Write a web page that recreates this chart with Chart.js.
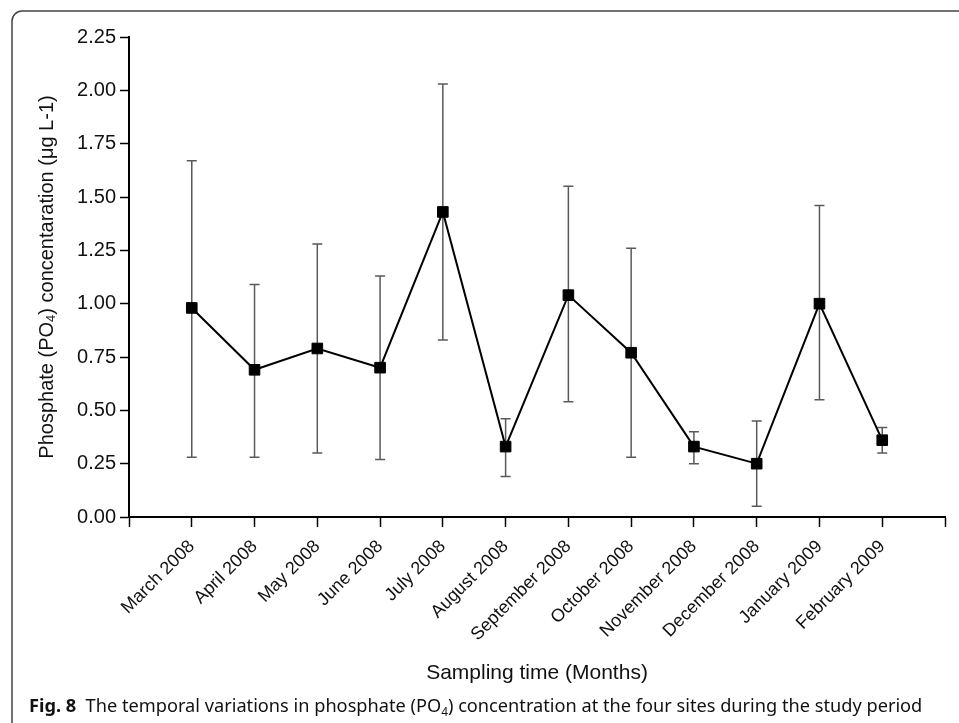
<!DOCTYPE html>
<html>
<head>
<meta charset="utf-8">
<script src="https://cdn.jsdelivr.net/npm/chart.js@4.4.0/dist/chart.umd.min.js"></script>
<style>
  html, body { margin: 0; padding: 0; background: #fff; }
  #wrap { width: 959px; height: 723px; position: relative; }
</style>
</head>
<body>
<div id="wrap"><canvas id="chartPO4"></canvas></div>
<script>
// months sampled, one point per month
const months = [
    "March 2008", "April 2008", "May 2008", "June 2008", "July 2008", "August 2008",
    "September 2008", "October 2008", "November 2008", "December 2008", "January 2009", "February 2009"
];
// mean phosphate
const means = [0.98, 0.69, 0.79, 0.70, 1.43, 0.33, 1.04, 0.77, 0.33, 0.25, 1.00, 0.36];
// error bar ends
const upper = [1.67, 1.09, 1.28, 1.13, 2.03, 0.46, 1.55, 1.26, 0.40, 0.45, 1.46, 0.42];
const lower = [0.28, 0.28, 0.30, 0.27, 0.83, 0.19, 0.54, 0.28, 0.25, 0.05, 0.55, 0.30];
const yTicks = [0, 0.25, 0.5, 0.75, 1, 1.25, 1.5, 1.75, 2, 2.25];

const axisFont = "'Liberation Sans', Arial, sans-serif";
const captionFont = "'Noto Sans', 'Open Sans', sans-serif";

// draws text pieces one after another, some of them as subscripts
const drawPieces = function (ctx, pieces, x, y, size, family) {
    let cx = x;
    pieces.forEach(p => {
        let s = p.sub ? size * 0.65 : size;
        ctx.font = `${p.bold ? 'bold ' : ''}${s}px ${family}`;
        ctx.fillText(p.t, cx, p.sub ? y + size * 0.22 : y);
        cx += ctx.measureText(p.t).width;
    });
    return cx - x;
};
const piecesWidth = function (ctx, pieces, size, family) {
    let w = 0;
    pieces.forEach(p => {
        let s = p.sub ? size * 0.65 : size;
        ctx.font = `${p.bold ? 'bold ' : ''}${s}px ${family}`;
        w += ctx.measureText(p.t).width;
    });
    return w;
};

const errorBarPlugin = {
    id: 'errorBars',
    beforeDatasetsDraw(chart) {
        const ctx = chart.ctx;
        const xs = chart.scales.x, ys = chart.scales.y;
        ctx.save();
        ctx.strokeStyle = '#5a5a5a';
        ctx.lineWidth = 1.5;
        months.forEach((m, i) => {
            const x = xs.getPixelForValue(i + 1);
            const yt = ys.getPixelForValue(upper[i]);
            const yb = ys.getPixelForValue(lower[i]);
            ctx.beginPath();
            ctx.moveTo(x, yt); ctx.lineTo(x, yb);
            ctx.moveTo(x - 5, yt); ctx.lineTo(x + 5, yt);
            ctx.moveTo(x - 5, yb); ctx.lineTo(x + 5, yb);
            ctx.stroke();
        });
        ctx.restore();
    }
};

const decorPlugin = {
    id: 'decor',
    afterDraw(chart) {
        const ctx = chart.ctx;
        const area = chart.chartArea;
        ctx.save();

        // figure frame, rounded top-left corner
        ctx.strokeStyle = '#444';
        ctx.lineWidth = 1.5;
        ctx.beginPath();
        ctx.moveTo(12, 723);
        ctx.lineTo(12, 21);
        ctx.arcTo(12, 11, 22, 11, 10);
        ctx.lineTo(959, 11);
        ctx.stroke();

        // y axis title with subscript
        ctx.fillStyle = '#111';
        ctx.textBaseline = 'middle';
        ctx.textAlign = 'left';
        const yTitle = [
            { t: 'Phosphate (PO' }, { t: '4', sub: true }, { t: ') concentaration (μg L-1)' }
        ];
        const w = piecesWidth(ctx, yTitle, 20, axisFont);
        ctx.translate(47, (area.top + area.bottom) / 2);
        ctx.rotate(-Math.PI / 2);
        drawPieces(ctx, yTitle, -w / 2, 0, 20, axisFont);
        ctx.setTransform(1, 0, 0, 1, 0, 0);

        // caption
        ctx.textBaseline = 'alphabetic';
        const caption = [
            { t: 'Fig. 8', bold: true },
            { t: '  The temporal variations in phosphate (PO' }, { t: '4', sub: true },
            { t: ') concentration at the four sites during the study period' }
        ];
        drawPieces(ctx, caption, 29, 712, 18.2, captionFont);
        ctx.restore();
    }
};

new Chart(document.getElementById('chartPO4'), {
    type: 'line',
    data: {
        datasets: [{
            data: means.map((v, i) => ({ x: i + 1, y: v })),
            borderColor: '#000',
            borderWidth: 2,
            pointStyle: 'rect',
            pointRadius: 7.5,
            pointBackgroundColor: '#000',
            pointBorderColor: '#000',
            pointBorderWidth: 1,
            tension: 0
        }]
    },
    options: {
        responsive: true,
        maintainAspectRatio: false,
        animation: false,
        layout: { padding: { left: 0, top: 37, right: 14, bottom: 0 } },
        plugins: { legend: { display: false }, tooltip: { enabled: false } },
        scales: {
            x: {
                type: 'linear',
                min: 0,
                max: 13,
                afterFit: function (scale) {
                    scale.height = 206;
                    // last tick has no label, so no extra room on the right
                    scale.paddingRight = 0;
                    scale.paddingLeft = 0;
                },
                afterBuildTicks: function (scale) {
                    scale.ticks = Array.from({ length: 14 }, (_, k) => ({ value: k }));
                },
                ticks: {
                    autoSkip: false,
                    maxRotation: 45,
                    minRotation: 45,
                    padding: 9,
                    color: '#111',
                    font: { family: axisFont, size: 18 },
                    callback: function (value) { return months[value - 1] || ''; }
                },
                grid: { drawOnChartArea: false, tickLength: 10, tickColor: '#000', tickWidth: 1.5 },
                border: { display: true, color: '#000', width: 2 },
                title: {
                    display: true,
                    text: 'Sampling time (Months)',
                    color: '#111',
                    font: { family: axisFont, size: 21 },
                    padding: { top: 0, bottom: 37 }
                }
            },
            y: {
                min: 0,
                max: 2.25,
                afterFit: function (scale) { scale.width = 129; },
                afterBuildTicks: function (scale) {
                    scale.ticks = yTicks.map(v => ({ value: v }));
                },
                ticks: {
                    padding: 4,
                    color: '#111',
                    font: { family: axisFont, size: 20 },
                    callback: function (value) { return Number(value).toFixed(2); }
                },
                grid: { drawOnChartArea: false, tickLength: 9, tickColor: '#000', tickWidth: 1.5 },
                border: { display: true, color: '#000', width: 2 }
            }
        }
    },
    plugins: [errorBarPlugin, decorPlugin]
});
</script>
</body>
</html>
